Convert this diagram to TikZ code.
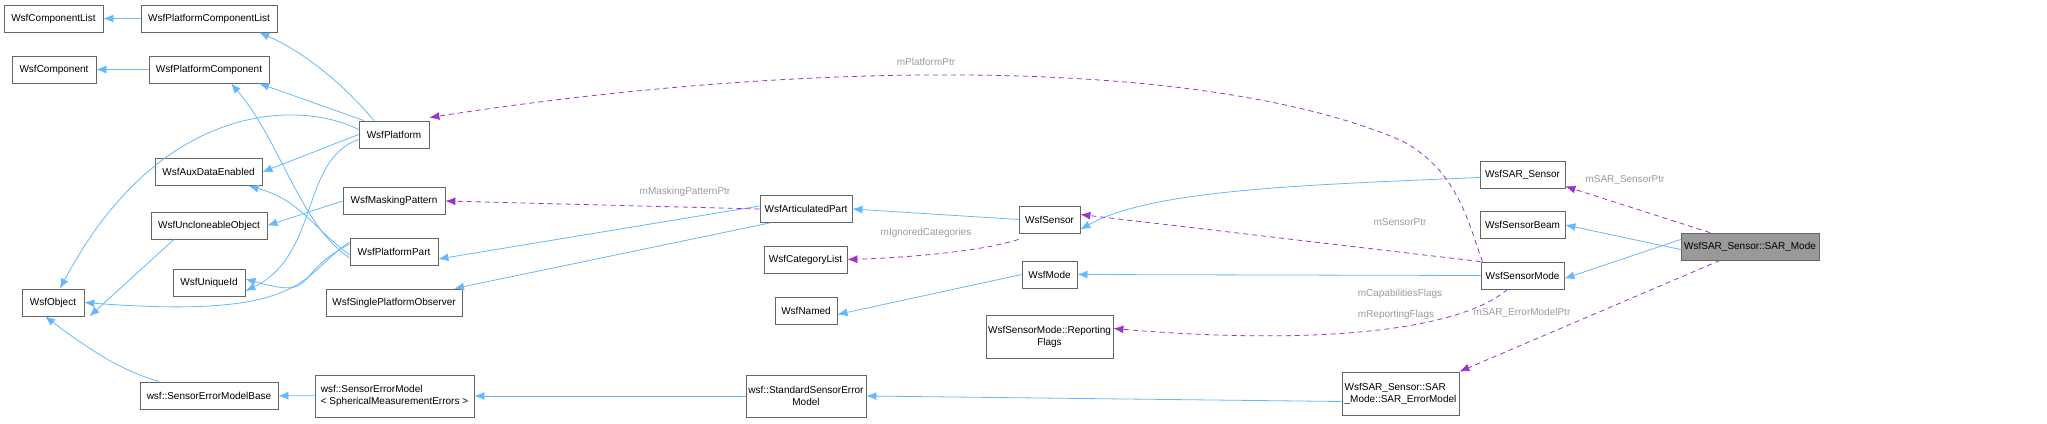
\documentclass[tikz,border=0pt]{standalone}
\usepackage{fontspec}
\setmainfont{Liberation Sans}
\usetikzlibrary{arrows.meta}
\definecolor{eblue}{HTML}{63B8FF}
\definecolor{epurp}{HTML}{9A32CD}
\definecolor{lgray}{HTML}{9A9A9A}
\begin{document}
\begin{tikzpicture}[x=1pt,y=-1pt,font=\fontsize{10}{12}\selectfont,
  box/.style={draw=black!60,line width=0.8pt,fill=white,inner sep=0pt,align=center,minimum height=27pt},
  inh/.style={draw=eblue,line width=0.8pt,-{Latex[length=10pt,width=8pt]}},
  use/.style={draw=epurp,line width=0.8pt,dash pattern=on 5pt off 4pt,-{Latex[length=10pt,width=8pt]}},
  lbl/.style={text=lgray,inner sep=1pt}]
\useasboundingbox (0,0) rectangle (2047,423);
\node[box,minimum width=99] (cl) at (53.5,18.5) {WsfComponentList};
\node[box,minimum width=136] (pcl) at (209,18.5) {WsfPlatformComponentList};
\node[box,minimum width=84] (comp) at (54,69.5) {WsfComponent};
\node[box,minimum width=120] (pc) at (209,69.5) {WsfPlatformComponent};
\node[box,minimum width=70] (plat) at (394,134.5) {WsfPlatform};
\node[box,minimum width=107] (aux) at (208.5,172) {WsfAuxDataEnabled};
\node[box,minimum width=102] (mask) at (394,201) {WsfMaskingPattern};
\node[box,minimum width=116] (uncl) at (209,225.5) {WsfUncloneableObject};
\node[box,minimum width=88] (part) at (394,252) {WsfPlatformPart};
\node[box,minimum width=72] (uid) at (209,283) {WsfUniqueId};
\node[box,minimum width=136] (spo) at (394,302.5) {WsfSinglePlatformObserver};
\node[box,minimum width=62] (obj) at (53,302.5) {WsfObject};
\node[box,minimum width=138] (semb) at (209,395.5) {wsf::SensorErrorModelBase};
\node[box,minimum width=159,minimum height=42,align=left] (sem) at (394.5,396) {wsf::SensorErrorModel\\< SphericalMeasurementErrors >};
\node[box,minimum width=92] (art) at (806,209) {WsfArticulatedPart};
\node[box,minimum width=61] (sen) at (1049.5,219.5) {WsfSensor};
\node[box,minimum width=83] (cat) at (805.5,259.5) {WsfCategoryList};
\node[box,minimum width=55] (mode) at (1049.5,274.5) {WsfMode};
\node[box,minimum width=62] (named) at (806,310.5) {WsfNamed};
\node[box,minimum width=127,minimum height=43] (flags) at (1049.5,336.5) {WsfSensorMode::Reporting\\Flags};
\node[box,minimum width=120,minimum height=42] (ssem) at (806,396) {wsf::StandardSensorError\\Model};
\node[box,minimum width=85] (sars) at (1522.5,174.5) {WsfSAR\_Sensor};
\node[box,minimum width=85] (beam) at (1522.5,225) {WsfSensorBeam};
\node[box,minimum width=83] (smode) at (1522.5,275.5) {WsfSensorMode};
\node[box,minimum width=138,fill=black!40] (sarm) at (1750,246.5) {WsfSAR\_Sensor::SAR\_Mode};
\node[box,minimum width=117,minimum height=43,align=left] (sarerr) at (1400.5,393.5) {WsfSAR\_Sensor::SAR\\\_Mode::SAR\_ErrorModel};
% inheritance
\draw[inh] (pcl) -- (cl);
\draw[inh] (pc) -- (comp);
\draw[inh] ([xshift=-20]plat.north) .. controls (340,80) and (300,50) .. ([xshift=50]pcl.south);
\draw[inh] ([xshift=-30]plat.north) -- ([xshift=50]pc.south);
\draw[inh] ([yshift=5]plat.west) .. controls (300,100) and (160,100) .. ([xshift=7]obj.north);
\draw[inh] (plat.west) -- (aux.east);
\draw[inh] ([yshift=-5]plat.west) .. controls (300,160) and (320,255) .. ([yshift=-8]uid.east);
\draw[inh] ([yshift=-6]part.west) .. controls (300,225) and (280,140) .. ([xshift=22]pc.south);
\draw[inh] ([yshift=-3]part.west) .. controls (310,225) and (300,200) .. ([xshift=40]aux.south);
\draw[inh] ([yshift=8]part.west) .. controls (290,275) and (320,300) .. ([yshift=4]uid.east);
\draw[inh] ([yshift=10]part.west) .. controls (300,275) and (310,320) .. (obj.east);
\draw[inh] (mask.west) -- (uncl.east);
\draw[inh] ([xshift=-35]uncl.south) -- ([xshift=5]obj.south east);
\draw[inh] ([xshift=-50]semb.north) .. controls (120,370) and (90,350) .. ([xshift=-8]obj.south);
\draw[inh] (sem) -- (semb);
\draw[inh] ([xshift=-36]art.south) -- ([xshift=60]spo.north);
\draw[inh] ([yshift=3]art.west) -- ([yshift=-7]part.east);
\draw[inh] (sen.west) -- (art.east);
\draw[inh] ([yshift=-3]sars.west) .. controls (1300,185) and (1150,190) .. ([yshift=-10]sen.east);
\draw[inh] (smode.west) -- (mode.east);
\draw[inh] (mode.west) -- ([yshift=-4]named.east);
\draw[inh] (ssem) -- (sem);
\draw[inh] ([yshift=-8]sarerr.west) -- (ssem.east);
\draw[inh] ([yshift=-3]sarm.west) -- (beam.east);
\draw[inh] ([yshift=7]sarm.west) -- ([yshift=-3]smode.east);
% usage
\draw[use] ([xshift=-40]smode.north) .. controls (1470,230) and (1460,170) .. (1400,140) .. controls (1200,55) and (800,60) .. ([yshift=3]plat.north east);
\node[lbl] (lp) at (926,62) {mPlatformPtr};
\draw[use] (art.west) -- (mask.east);
\node[lbl] (lm) at (685,192) {mMaskingPatternPtr};
\draw[use] ([yshift=-6]sen.south west) .. controls (980,252) and (900,258) .. (cat.east);
\node[lbl] (li) at (926,233) {mIgnoredCategories};
\draw[use] (smode.north west) -- ([yshift=5]sen.east);
\node[lbl] (ls) at (1400,222) {mSensorPtr};
\draw[use] ([xshift=-15]smode.south) .. controls (1460,330) and (1320,346) .. ([yshift=8]flags.east);
\node[lbl] (lc) at (1400,294) {mCapabilitiesFlags};
\node[lbl] (lr) at (1396,315) {mReportingFlags};
\draw[use] ([xshift=-40]sarm.north) -- ([yshift=2]sars.south east);
\node[lbl] (lsp) at (1625,180) {mSAR\_SensorPtr};
\draw[use] ([xshift=-30]sarm.south) -- (sarerr.north east);
\node[lbl] (le) at (1522,313) {mSAR\_ErrorModelPtr};
\end{tikzpicture}
\end{document}
